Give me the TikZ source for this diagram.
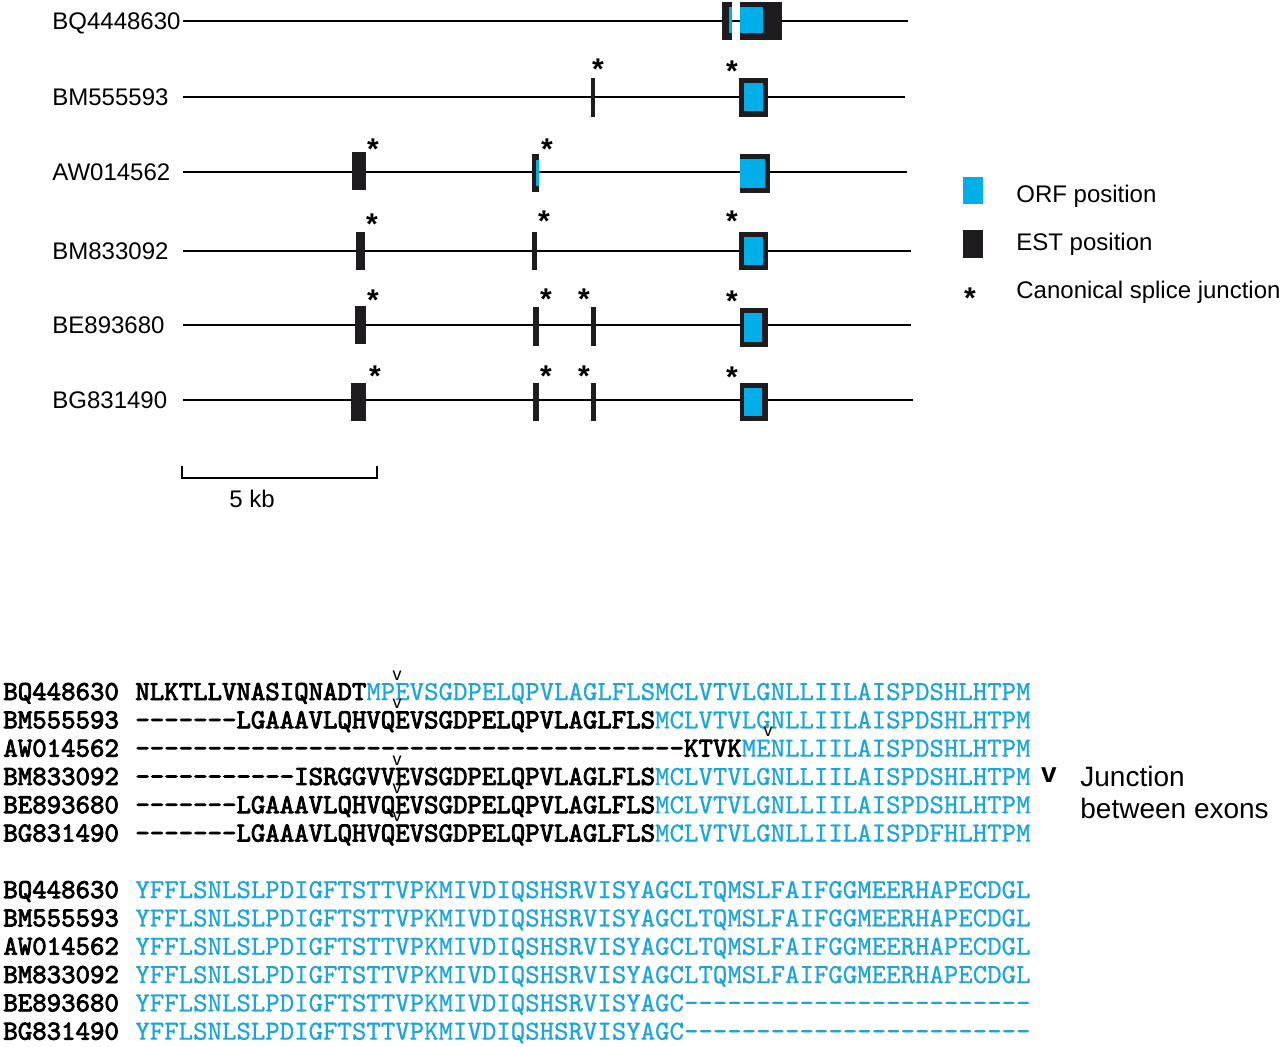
\documentclass[tikz,border=0pt]{standalone}
\usepackage{fontspec}
\setmainfont{Liberation Sans}
\setsansfont{Liberation Sans}
\setmonofont{lmmono10-regular.otf}[FakeBold=0.7, BoldFont=lmmono10-regular.otf, BoldFeatures={FakeBold=3}]
\usepackage{tikz}
\usetikzlibrary{backgrounds}
\definecolor{orfblue}{RGB}{0,174,232}
\definecolor{seqblue}{RGB}{25,165,220}
\definecolor{estblack}{RGB}{30,28,30}
\newcommand{\orfcolor}{orfblue}
\newcommand{\estcolor}{estblack}
\newcommand{\intron}{0.8pt}
\tikzset{
  est name/.style={font=\fontsize{12}{14}\selectfont, anchor=base west, inner sep=0pt},
  splice/.style={font=\bfseries\fontsize{15}{15}\selectfont, anchor=north, inner sep=0pt, yshift=2.5pt},
  seq name/.style={font=\ttfamily\bfseries\fontsize{13.75}{16}\selectfont, anchor=base west, inner sep=0pt},
  seq/.style={font=\ttfamily\fontsize{13.75}{16}\selectfont, anchor=base west, inner sep=0pt},
  junction/.style={font=\fontsize{9}{9}\selectfont, inner sep=0pt},
  legend text/.style={font=\fontsize{12}{14}\selectfont, anchor=base west, inner sep=0pt}
}
\begin{document}
\begin{tikzpicture}[x=0.5pt, y=-0.5pt]
\useasboundingbox (0,0) rectangle (1280,1046);
%gene models
\node[est name] (1) at (52,29.6) {BQ4448630};
\node[est name] (2) at (52,105.6) {BM555593};
\node[est name] (3) at (52,180.6) {AW014562};
\node[est name] (4) at (52,259.6) {BM833092};
\node[est name] (5) at (52,333.6) {BE893680};
\node[est name] (6) at (52,408.6) {BG831490};
\draw[line width=\intron] (183,21) -- (908,21);
\draw[line width=\intron] (183,97) -- (905,97);
\draw[line width=\intron] (183,172) -- (907,172);
\draw[line width=\intron] (183,251) -- (911,251);
\draw[line width=\intron] (183,325) -- (911,325);
\draw[line width=\intron] (183,400) -- (913,400);
%BQ4448630
\fill[\estcolor] (722,2) rectangle (732,40);
\fill[\orfcolor] (729,7) rectangle (732,33);
\fill[\estcolor] (740,2) rectangle (782,40);
\fill[\orfcolor] (740,7) rectangle (763,33);
%BM555593
\fill[\estcolor] (591,78) rectangle (595,117);
\fill[\estcolor] (739,78) rectangle (768,117);
\fill[\orfcolor] (744,83) rectangle (763,111);
\node[splice] (s21) at (598,63) {*};
\node[splice] (s22) at (732,65) {*};
%AW014562
\fill[\estcolor] (352,152) rectangle (366,190);
\fill[\estcolor] (532,154) rectangle (539,192);
\fill[\orfcolor] (535.5,160) rectangle (539,186);
\fill[\estcolor] (740,154) rectangle (770,193);
\fill[\orfcolor] (740,159) rectangle (765,188);
\node[splice] (s31) at (373,143) {*};
\node[splice] (s32) at (547,143) {*};
%BM833092
\fill[\estcolor] (356,232) rectangle (365,270);
\fill[\estcolor] (532,232) rectangle (537,270);
\fill[\estcolor] (739,232) rectangle (768,270);
\fill[\orfcolor] (744,237) rectangle (763,265);
\node[splice] (s41) at (372,218) {*};
\node[splice] (s42) at (544,215) {*};
\node[splice] (s43) at (732,215) {*};
%BE893680
\fill[\estcolor] (355,306) rectangle (366,344);
\fill[\estcolor] (533,307) rectangle (539,346);
\fill[\estcolor] (591,307) rectangle (596,346);
\fill[\estcolor] (740,308) rectangle (768,347);
\fill[\orfcolor] (744,313) rectangle (762,342);
\node[splice] (s51) at (373,294) {*};
\node[splice] (s52) at (546,293) {*};
\node[splice] (s53) at (584,293) {*};
\node[splice] (s54) at (732,295) {*};
%BG831490
\fill[\estcolor] (351,383) rectangle (366,421);
\fill[\estcolor] (533,383) rectangle (539,421);
\fill[\estcolor] (591,383) rectangle (596,421);
\fill[\estcolor] (740,383) rectangle (768,421);
\fill[\orfcolor] (744,388) rectangle (762,416);
\node[splice] (s61) at (375,370) {*};
\node[splice] (s62) at (546,370) {*};
\node[splice] (s63) at (584,370) {*};
\node[splice] (s64) at (732,371) {*};
%legend
\fill[\orfcolor] (963,177) rectangle (983,204);
\fill[\estcolor] (963,230) rectangle (983,258);
\node[splice] (lstar) at (970,292) {*};
\node[legend text] (lorf) at (1016,202.6) {ORF position};
\node[legend text] (lest) at (1016,250.6) {EST position};
\node[legend text] (lspl) at (1016,298.6) {Canonical splice junction};
%scale bar
\draw[line width=0.7pt] (182,466) -- (182,478) -- (377,478) -- (377,466);
\node[font=\fontsize{12}{14}\selectfont, anchor=base, inner sep=0pt] (kb) at (252,507) {5 kb};
%alignment, block 1
\node[seq name] (a1) at (3,700) {BQ448630};
\node[seq name] (a2) at (3,728.3) {BM555593};
\node[seq name] (a3) at (3,756.6) {AW014562};
\node[seq name] (a4) at (3,784.9) {BM833092};
\node[seq name] (a5) at (3,813.2) {BE893680};
\node[seq name] (a6) at (3,841.5) {BG831490};
\node[seq] (q1) at (135,700) {\textbf{NLKTLLVNASIQNADT}\textcolor{seqblue}{MPEVSGDPELQPVLAGLFLSMCLVTVLGNLLIILAISPDSHLHTPM}};
\node[seq] (q2) at (135,728.3) {\textbf{-------LGAAAVLQHVQEVSGDPELQPVLAGLFLS}\textcolor{seqblue}{MCLVTVLGNLLIILAISPDSHLHTPM}};
\node[seq] (q3) at (135,756.6) {\textbf{--------------------------------------KTVK}\textcolor{seqblue}{MENLLIILAISPDSHLHTPM}};
\node[seq] (q4) at (135,784.9) {\textbf{-----------ISRGGVVEVSGDPELQPVLAGLFLS}\textcolor{seqblue}{MCLVTVLGNLLIILAISPDSHLHTPM}};
\node[seq] (q5) at (135,813.2) {\textbf{-------LGAAAVLQHVQEVSGDPELQPVLAGLFLS}\textcolor{seqblue}{MCLVTVLGNLLIILAISPDSHLHTPM}};
\node[seq] (q6) at (135,841.5) {\textbf{-------LGAAAVLQHVQEVSGDPELQPVLAGLFLS}\textcolor{seqblue}{MCLVTVLGNLLIILAISPDFHLHTPM}};
\node[junction] (v1) at (397,675.5) {v};
\node[junction] (v2) at (397,703.8) {v};
\node[junction] (v3) at (768,732.1) {v};
\node[junction] (v4) at (397,760.4) {v};
\node[junction] (v5) at (397,788.7) {v};
\node[junction] (v6) at (397,817) {v};
%alignment, block 2
\node[seq name] (b1) at (3,898.1) {BQ448630};
\node[seq name] (b2) at (3,926.4) {BM555593};
\node[seq name] (b3) at (3,954.7) {AW014562};
\node[seq name] (b4) at (3,983) {BM833092};
\node[seq name] (b5) at (3,1011.3) {BE893680};
\node[seq name] (b6) at (3,1039.6) {BG831490};
\node[seq, text=seqblue] (r1) at (135,898.1) {YFFLSNLSLPDIGFTSTTVPKMIVDIQSHSRVISYAGCLTQMSLFAIFGGMEERHAPECDGL};
\node[seq, text=seqblue] (r2) at (135,926.4) {YFFLSNLSLPDIGFTSTTVPKMIVDIQSHSRVISYAGCLTQMSLFAIFGGMEERHAPECDGL};
\node[seq, text=seqblue] (r3) at (135,954.7) {YFFLSNLSLPDIGFTSTTVPKMIVDIQSHSRVISYAGCLTQMSLFAIFGGMEERHAPECDGL};
\node[seq, text=seqblue] (r4) at (135,983) {YFFLSNLSLPDIGFTSTTVPKMIVDIQSHSRVISYAGCLTQMSLFAIFGGMEERHAPECDGL};
\node[seq, text=seqblue] (r5) at (135,1011.3) {YFFLSNLSLPDIGFTSTTVPKMIVDIQSHSRVISYAGC------------------------};
\node[seq, text=seqblue] (r6) at (135,1039.6) {YFFLSNLSLPDIGFTSTTVPKMIVDIQSHSRVISYAGC------------------------};
%junction legend
\node[font=\bfseries\fontsize{14}{14}\selectfont, inner sep=0pt] (jv) at (1049,775.5) {v};
\node[legend text, font=\fontsize{14}{16}\selectfont] (jt1) at (1080,786) {Junction};
\node[legend text, font=\fontsize{14}{16}\selectfont] (jt2) at (1080,818) {between exons};
\end{tikzpicture}
\end{document}
